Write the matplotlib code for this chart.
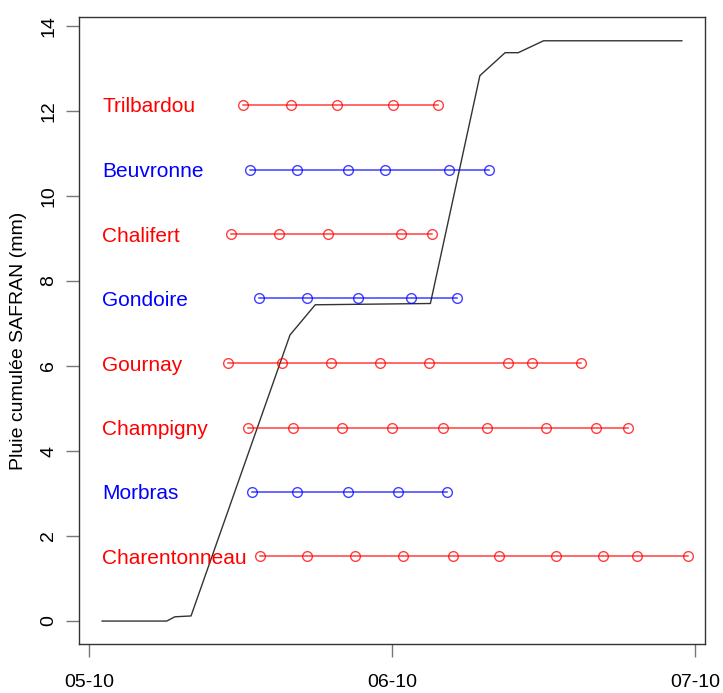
import matplotlib.pyplot as plt

plt.rcParams['font.family'] = ['Liberation Sans', 'DejaVu Sans']

# x in days after 05-10 (axis labels sit every 30 units, as in the source)
tick_pos = [0, 30, 60]
tick_labels = ['05-10', '06-10', '07-10']

# cumulative SAFRAN rainfall (mm)
rain_x = [1.3, 7.7, 8.5, 10.1, 19.9, 22.4, 33.8, 38.7, 41.2, 42.5, 45.0, 58.7]
rain_y = [0.0, 0.0, 0.10, 0.12, 6.73, 7.44, 7.47, 12.83, 13.37, 13.37, 13.65, 13.65]

stations = ['Charentonneau', 'Morbras', 'Champigny', 'Gournay',
            'Gondoire', 'Chalifert', 'Beuvronne', 'Trilbardou']
colors = ['red', 'blue', 'red', 'red', 'blue', 'red', 'blue', 'red']
levels = [1.52, 3.04, 4.55, 6.07, 7.59, 9.10, 10.62, 12.14]

obs_days = [
    [16.9, 21.6, 26.3, 31.1, 36.0, 40.6, 46.2, 50.9, 54.3, 59.3],  # Charentonneau
    [16.1, 20.6, 25.6, 30.6, 35.4],                                # Morbras
    [15.7, 20.2, 25.0, 30.0, 35.0, 39.4, 45.2, 50.2, 53.4],        # Champigny
    [13.8, 19.1, 24.0, 28.8, 33.7, 41.5, 43.9, 48.7],              # Gournay
    [16.8, 21.6, 26.6, 31.9, 36.4],                                # Gondoire
    [14.1, 18.8, 23.7, 30.9, 34.0],                                # Chalifert
    [15.9, 20.6, 25.6, 29.3, 35.6, 39.6],                          # Beuvronne
    [15.2, 20.0, 24.6, 30.1, 34.6],                                # Trilbardou
]

fig = plt.figure(figsize=(7.23, 6.93), dpi=100)
ax = fig.add_axes([0.1093, 0.0707, 0.8658, 0.9048])

ax.plot(rain_x, rain_y, color='#333333', lw=1.0)

for name, col, lev, days in zip(stations, colors, levels, obs_days):
    ax.plot(days, [lev] * len(days), color=col, lw=1.1, marker='o',
            markersize=7, markerfacecolor='none', markeredgecolor=col,
            markeredgewidth=1.0, alpha=0.75)
    ax.text(rain_x[0], lev, name, color=col, fontsize=15,
            ha='left', va='center_baseline')

ax.set_xlim(-0.99, 60.99)
ax.set_ylim(-0.54, 14.21)
ax.set_xticks(tick_pos)
ax.set_xticklabels(tick_labels)
ax.set_yticks(range(0, 15, 2))
for lab in ax.get_yticklabels():
    lab.set_rotation(90)
    lab.set_va('center')

ax.tick_params(axis='both', length=9.5, width=1.0, color='#777777',
               labelsize=14)
ax.tick_params(axis='x', pad=12)
ax.tick_params(axis='y', pad=6)

for sp in ax.spines.values():
    sp.set_color('#333333')
    sp.set_linewidth(1.0)

ax.set_ylabel('Pluie cumulée SAFRAN (mm)', fontsize=14, va='center')
ax.yaxis.set_label_coords(-0.096, 0.484)

fig.savefig('out.png', dpi=100)
